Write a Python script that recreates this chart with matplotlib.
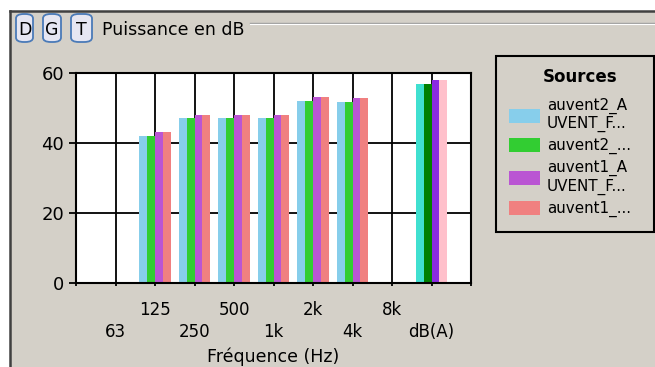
import numpy as np
import matplotlib
matplotlib.use('Agg')
import matplotlib.pyplot as plt
from matplotlib.patches import Rectangle, FancyBboxPatch
from matplotlib.lines import Line2D

# === 数据 ===
categories = ['63', '125', '250', '500', '1k', '2k', '4k', '8k', 'dB(A)']
series_names = ['auvent2_A\nUVENT_F...', 'auvent2_...', 'auvent1_A\nUVENT_F...', 'auvent1_...']
auvent2_a = [np.nan, 42, 47, 47, 47, 52, 51.7, np.nan, 56.8]
auvent2_b = [np.nan, 42, 47, 47, 47, 52, 51.7, np.nan, 56.8]
auvent1_a = [np.nan, 43, 48, 48, 48, 53, 52.7, np.nan, 57.8]
auvent1_b = [np.nan, 43, 48, 48, 48, 53, 52.7, np.nan, 57.8]
series_values = [auvent2_a, auvent2_b, auvent1_a, auvent1_b]
series_colors = ['#87CEEB', '#32CD32', '#BA55D3', '#F08080']
total_colors = ['#40E0D0', '#008000', '#8A2BE2', '#FFC0CB']  # couleurs de la colonne dB(A)

W, H = 655, 367
bg = '#D4D0C8'
plt.rcParams['font.family'] = ['DejaVu Sans']

fig = plt.figure(figsize=(W / 100, H / 100), dpi=100, facecolor='white')

# panneau gris + bordure sombre
fig.patches.append(Rectangle((10 / W, 0), 1, 1 - 11 / H, transform=fig.transFigure,
                             facecolor=bg, edgecolor='none', zorder=-5))
fig.lines.append(Line2D([10 / W, 1], [1 - 11 / H, 1 - 11 / H], transform=fig.transFigure,
                        color='#404040', lw=1.8))
fig.lines.append(Line2D([10 / W, 10 / W], [0, 1 - 11 / H], transform=fig.transFigure,
                        color='#404040', lw=1.8))
# ligne du groupbox
fig.lines.append(Line2D([250 / W, 1], [1 - 23 / H, 1 - 23 / H], transform=fig.transFigure,
                        color='#A0A0A0', lw=1))
fig.lines.append(Line2D([250 / W, 1], [1 - 24.2 / H, 1 - 24.2 / H], transform=fig.transFigure,
                        color='white', lw=0.8))

# boutons D G T
for letter, x0, x1 in [('D', 16, 33), ('G', 43, 61), ('T', 71, 92)]:
    fig.patches.append(FancyBboxPatch((x0 / W, 1 - 42 / H), (x1 - x0) / W, 28 / H,
                                      boxstyle='round,pad=0,rounding_size=0.012',
                                      transform=fig.transFigure, facecolor='#E6E6F2',
                                      edgecolor='#4A7AB8', lw=1.3))
    fig.text((x0 + x1) / 2 / W, 1 - 35 / H, letter, ha='center', va='baseline',
             fontsize=12.5, color='black')

fig.text(102 / W, 1 - 35 / H, 'Puissance en dB', ha='left', va='baseline', fontsize=12.5)

# === graphique ===
ax = fig.add_axes([76 / W, 1 - 283 / H, (471 - 76) / W, (283 - 72.7) / H])
ax.set_facecolor('white')
x = np.arange(1, len(categories) + 1)
width = 0.2
for i, (vals, name, col) in enumerate(zip(series_values, series_names, series_colors)):
    colors = [col] * (len(categories) - 1) + [total_colors[i]]
    ax.bar(x + (i - 1.5) * width, vals, width=width, color=colors, label=name,
           linewidth=0, zorder=2)

ax.set_xlim(0, 10)
ax.set_ylim(0, 60)
ax.set_yticks([0, 20, 40, 60])
ax.set_xticks(x)
ax.set_xticklabels(categories, fontsize=12)
ax.set_xticks([0, 10], minor=True)
ax.tick_params(axis='y', labelsize=13, length=5, width=1.3, pad=3.6, colors='black')
ax.tick_params(axis='x', which='both', length=2.2, width=1.3)
for j, t in enumerate(ax.xaxis.get_major_ticks()):
    t.set_pad(10.5 if j % 2 == 1 else 26.5)
ax.grid(True, color='black', lw=1.3)
ax.set_axisbelow(True)
for s in ax.spines.values():
    s.set_linewidth(1.5)
    s.set_color('black')

fig.text(273.5 / W, 1 - 347 / H, 'Fréquence (Hz)', ha='center', va='top', fontsize=12.5)

# === légende ===
fig.patches.append(Rectangle((496 / W, 1 - 232 / H), (654 - 496) / W, (232 - 56) / H,
                             transform=fig.transFigure, facecolor='none',
                             edgecolor='black', lw=1.5))
fig.text(580 / W, 1 - 77 / H, 'Sources', ha='center', va='center', fontsize=12,
         fontweight='bold')
handles, labels = ax.get_legend_handles_labels()
leg = fig.legend(handles, labels, loc='upper left', bbox_to_anchor=(509 / W, 1 - 97.5 / H),
                 frameon=False, fontsize=10.9, handlelength=2.05, handleheight=1.05,
                 handletextpad=0.45, labelspacing=0.38, borderpad=0, borderaxespad=0)
for h in leg.legend_handles:
    h.set_linewidth(0)

fig.savefig('out.png', dpi=100, facecolor=fig.get_facecolor())
